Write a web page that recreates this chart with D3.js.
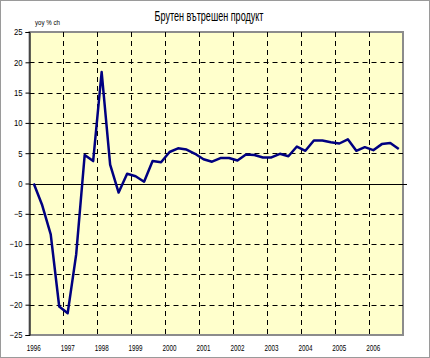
<!DOCTYPE html>
<html><head><meta charset="utf-8">
<script src="https://cdn.jsdelivr.net/npm/d3@7"></script>
<style>body{margin:0;background:#fff}svg{display:block}</style>
</head><body>
<svg id="c" width="430" height="358"></svg>
<script>
const title = "Брутен вътрешен продукт";
const unitLabel = "yoy % ch";
const years = ["1996","1997","1998","1999","2000","2001","2002","2003","2004","2005","2006"];
const quarters = ["Q1","Q2","Q3","Q4"];
const gdp = [
  0.0, -3.6, -8.4, -20.3, -21.4, -11.7,
  4.7, 3.7, 18.4, 3.1, -1.5, 1.6,
  1.2, 0.3, 3.7, 3.5, 5.2, 5.8,
  5.6, 4.9, 4.0, 3.6, 4.2, 4.2,
  3.8, 4.8, 4.7, 4.3, 4.3, 4.9,
  4.5, 6.1, 5.4, 7.1, 7.1, 6.8,
  6.6, 7.3, 5.4, 6.0, 5.5, 6.5,
  6.7, 5.7
];
const yTicks = [-25,-20,-15,-10,-5,0,5,10,15,20,25];

const cats = [];
years.forEach(y => quarters.forEach(q => cats.push(y + q)));

const FONT = "'Liberation Sans','DejaVu Sans',sans-serif";
const svg = d3.select("#c");
const W = 430, H = 358;
const m = {l: 29.5, r: 403, t: 32, b: 335};

svg.append("rect").attr("x",0.5).attr("y",0.5).attr("width",W-1).attr("height",H-1)
  .attr("fill","#fff").attr("stroke","#9a9a9a").attr("stroke-width",1);

const x = d3.scaleBand().domain(cats).range([m.l, m.r]).padding(0);
const y = d3.scaleLinear().domain([-25,25]).range([m.b, m.t]);

svg.append("rect").attr("x",m.l).attr("y",m.t).attr("width",m.r-m.l).attr("height",m.b-m.t)
  .attr("fill","#FFFFCC").attr("stroke","#8c8c8c").attr("stroke-width",2);

svg.append("g").selectAll("line").data(yTicks.filter(d => d !== 0 && d !== -25 && d !== 25)).join("line")
  .attr("x1",m.l).attr("x2",m.r).attr("y1",d=>Math.round(y(d))+0.5).attr("y2",d=>Math.round(y(d))+0.5)
  .attr("stroke","#000").attr("stroke-width",1).attr("stroke-dasharray","5,4");

svg.append("g").selectAll("line").data(years.slice(1)).join("line")
  .attr("x1",d=>Math.round(x(d+"Q1"))+0.5).attr("x2",d=>Math.round(x(d+"Q1"))+0.5)
  .attr("y1",m.t).attr("y2",m.b)
  .attr("stroke","#000").attr("stroke-width",1).attr("stroke-dasharray","5,4");

svg.append("line").attr("x1",m.l).attr("x2",m.r+4).attr("y1",Math.round(y(0))+0.5).attr("y2",Math.round(y(0))+0.5)
  .attr("stroke","#000").attr("stroke-width",1);

const yAxis = d3.axisLeft(y).tickValues(yTicks).tickSize(4).tickPadding(3);
const gy = svg.append("g").attr("transform",`translate(${m.l},0)`).call(yAxis);
gy.select(".domain").attr("stroke","#000");
gy.selectAll("line").attr("stroke","#000");
gy.selectAll("text").attr("font-family",FONT).attr("font-size",9).attr("fill","#000")
  .each(function(d){ const s = String(d); d3.select(this).attr("textLength", s.length*4.3).attr("lengthAdjust","spacingAndGlyphs"); });

const xAxis = d3.axisBottom(x).tickValues(years.map(d=>d+"Q1")).tickFormat(d=>d.slice(0,4)).tickSize(0).tickPadding(10);
const gx = svg.append("g").attr("transform",`translate(0,${m.b})`).call(xAxis);
gx.select(".domain").remove();
gx.selectAll("text").attr("font-family",FONT).attr("font-size",9).attr("fill","#000")
  .attr("textLength",14).attr("lengthAdjust","spacingAndGlyphs");

const line = d3.line().x((d,i)=>x(cats[i]) + x.bandwidth()/2).y(d=>y(d));
svg.append("path").datum(gdp).attr("d",line).attr("fill","none")
  .attr("stroke","#000080").attr("stroke-width",2.5).attr("stroke-linejoin","round");

svg.append("text").attr("x",209).attr("y",21).attr("text-anchor","middle")
  .attr("font-family",FONT).attr("font-size",14).attr("fill","#000")
  .attr("textLength",109).attr("lengthAdjust","spacingAndGlyphs").text(title);
svg.append("text").attr("x",35).attr("y",25)
  .attr("font-family",FONT).attr("font-size",8).attr("fill","#000")
  .attr("textLength",25).attr("lengthAdjust","spacingAndGlyphs").text(unitLabel);
</script>
</body></html>
